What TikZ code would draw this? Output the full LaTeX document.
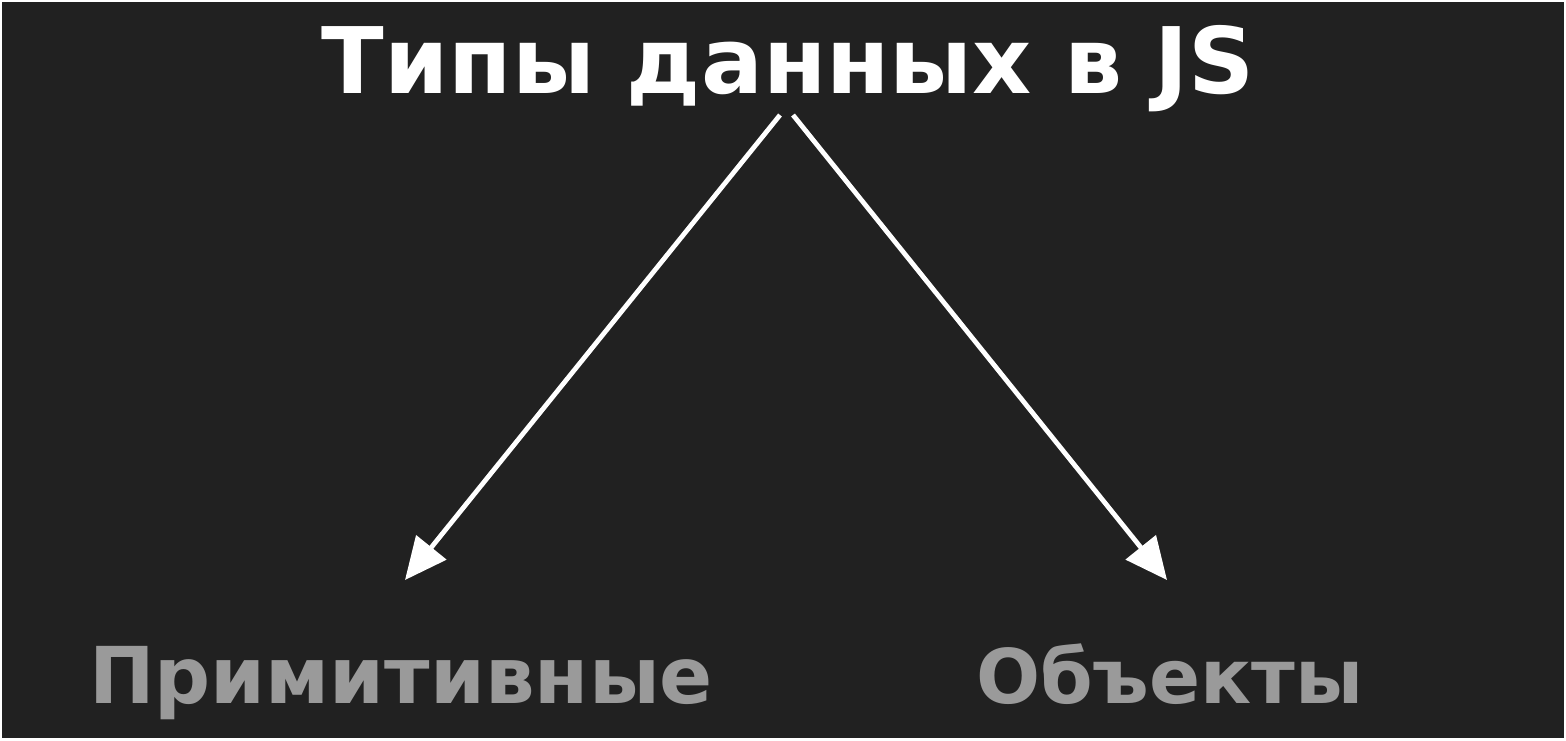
\documentclass[tikz,border=0pt]{standalone}
\usepackage{fontspec}
\setmainfont{DejaVu Sans}
\usepackage{xcolor}
\usetikzlibrary{arrows.meta}
\definecolor{board}{HTML}{212121}
\definecolor{soft}{HTML}{9A9A9A}
\tikzset{
  arr/.style={draw=white,line width=2.4pt,-{Triangle[length=21pt,width=19pt]}},
}

\begin{document}
\begin{tikzpicture}[x=0.5pt,y=-0.5pt]
\fill[white] (0,0) rectangle (1566,740);
\fill[board] (2,2) rectangle (1564,738);
\node[anchor=base,text=white,inner sep=0pt] (title) at (788,93) {\fontsize{45.9}{50}\selectfont\bfseries Типы данных в JS};
\node[anchor=base,text=soft,inner sep=0pt] (prim) at (401,703) {\fontsize{39.2}{42}\selectfont\bfseries Примитивные};
\node[anchor=base,text=soft,inner sep=0pt] (obj) at (1170,703) {\fontsize{37.7}{40}\selectfont\bfseries Объекты};
\coordinate (sl) at (780,115);
\coordinate (sr) at (793,115);
\coordinate (el) at (405,580);
\coordinate (er) at (1167,580);
\draw[arr] (sl) -- (el);
\draw[arr] (sr) -- (er);

\end{tikzpicture}
\end{document}
